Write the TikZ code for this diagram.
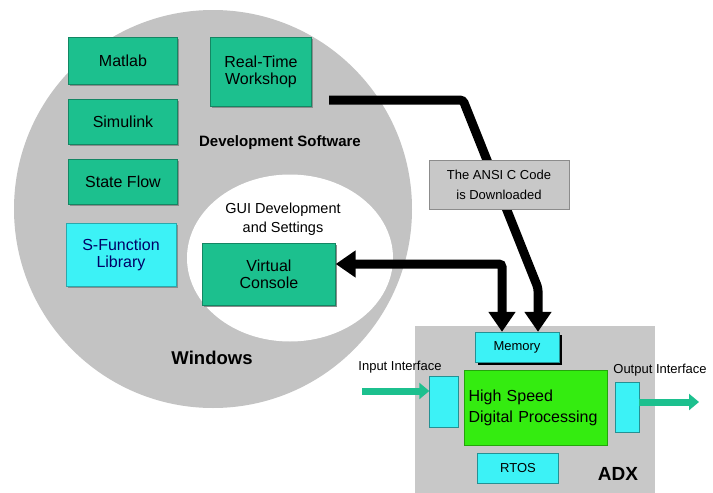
\documentclass[tikz,border=0pt]{standalone}
\usepackage{fontspec}
\setmainfont{Liberation Sans}
\usetikzlibrary{arrows.meta,positioning,calc,shadows,shapes.geometric}
\definecolor{adxTeal}{HTML}{1CC08E}
\definecolor{adxCyan}{HTML}{3CF2F6}
\definecolor{adxLime}{HTML}{34EC10}
\definecolor{adxGrey}{HTML}{C3C3C3}
\definecolor{adxPanel}{HTML}{C8C8C8}

\begin{document}
\begin{tikzpicture}[x=1pt,y=-1pt,
    tool/.style={draw=adxTeal!70!black,fill=adxTeal,line width=0.4pt,align=center,
                 font=\fontsize{16}{17}\selectfont,inner sep=2pt,
                 drop shadow={shadow xshift=1.5pt,shadow yshift=-1.5pt,fill=black!45,opacity=1}},
    lib/.style={tool,draw=adxCyan!70!black,fill=adxCyan,text=blue!40!black},
    unit/.style={draw=adxCyan!60!black,fill=adxCyan,line width=0.4pt,align=center,
                 font=\fontsize{13}{14}\selectfont,inner sep=2pt},
    hdr/.style={font=\fontsize{15}{16}\selectfont\bfseries},
    lbl/.style={font=\fontsize{13}{14}\selectfont},
    big/.style={line width=9pt,rounded corners=3pt,-{Triangle[width=26pt,length=20pt]}},
    flow/.style={adxTeal,line width=7pt,-{Triangle[width=16pt,length=10pt]}}]

  \useasboundingbox[fill=white] (0,0) rectangle (713,493);

  % windows side
  \node[circle,fill=adxGrey,minimum size=398pt,inner sep=0pt] (win) at (213,209) {};
  \node[ellipse,fill=white,minimum width=206pt,minimum height=167pt,inner sep=0pt] (gui) at (290,258) {};

  \node[tool,minimum width=109pt,minimum height=47pt] (matlab) at (123,61) {Matlab};
  \node[tool,minimum width=109pt,minimum height=45pt] (simulink) at (123,122) {Simulink};
  \node[tool,minimum width=109pt,minimum height=45pt] (stateflow) at (123,182) {State Flow};
  \node[lib,minimum width=110pt,minimum height=63pt] (sfun) at (121,255) {S-Function\\Library};
  \node[tool,minimum width=101pt,minimum height=69pt] (rtw) at (261,72) {Real-Time\\Workshop};
  \node[tool,minimum width=133pt,minimum height=62pt] (vc) at (269,274) {Virtual\\Console};

  \node[hdr] (devsw) at (280,143) {Development Software};
  \node[font=\fontsize{14.5}{19}\selectfont,align=center] (guitxt) at (283,219) {GUI Development\\and Settings};
  \node[font=\fontsize{18.5}{20}\selectfont\bfseries] (wintxt) at (212,358) {Windows};

  % ADX target
  \node[fill=adxPanel,minimum width=240pt,minimum height=170pt,inner sep=0pt] (adx) at (535,411) {};
  \node[unit,minimum width=84pt,minimum height=30pt,
        drop shadow={shadow xshift=3pt,shadow yshift=-3pt,fill=black,opacity=1}] (mem) at (517,347) {Memory};
  \node[fill=adxLime,draw=adxLime!70!black,minimum width=143pt,minimum height=75pt,
        text width=135pt,align=left,inner sep=3pt,
        font=\fontsize{16}{21}\selectfont] (hsdp) at (536,408) {High Speed\\Digital Processing};
  \node[unit,minimum width=29pt,minimum height=51pt] (inp) at (444,402) {};
  \node[unit,minimum width=24pt,minimum height=50pt] (outp) at (627,407) {};
  \node[unit,minimum width=81pt,minimum height=30pt] (rtos) at (518,468) {RTOS};
  \node[font=\fontsize{19}{20}\selectfont\bfseries] (adxtxt) at (618,474) {ADX};

  \node[lbl] (inlbl) at (400,367) {Input Interface};
  \node[lbl] (outlbl) at (660,370) {Output Interface};

  \coordinate (inStart) at (362,391);
  \coordinate (outEnd) at (699,402);
  \draw[flow] (inStart) -- (inStart -| inp.west);
  \draw[flow] (outp.east |- outEnd) -- (outEnd);

  % download path and console link
  \coordinate (codeStart) at (329,100);
  \draw[big] (codeStart) -- (463,100) -- (538,288) -- ([xshift=21pt]mem.north);
  \draw[big,{Triangle[width=26pt,length=20pt]}-{Triangle[width=26pt,length=20pt]}]
    ([yshift=10pt]vc.east) -| ([xshift=-15pt]mem.north);

  \node[fill=adxPanel,draw=black!45,line width=0.6pt,align=center,
        minimum width=140pt,minimum height=49pt,
        font=\fontsize{13}{20}\selectfont] (ansi) at (499,185) {The ANSI C Code\\is Downloaded};
\end{tikzpicture}
\end{document}
